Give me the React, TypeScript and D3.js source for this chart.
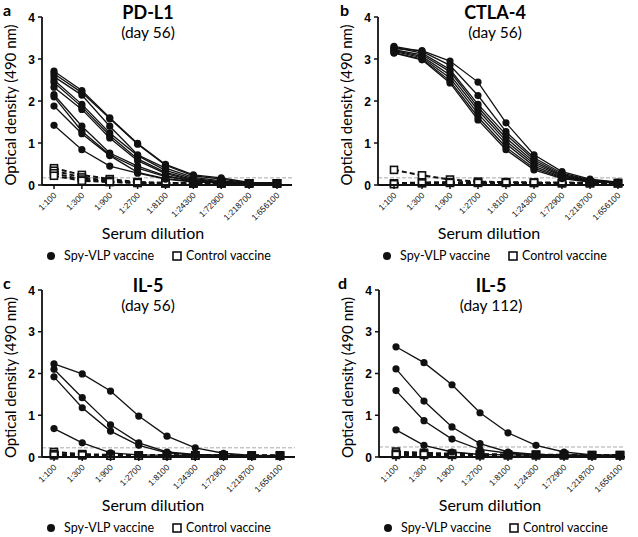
import * as d3 from "d3";

const dilutions = ["1:100", "1:300", "1:900", "1:2700", "1:8100", "1:24300", "1:72900", "1:218700", "1:656100"];
const yTicks = [0, 1, 2, 3, 4];

// panel a: PD-L1 day 56
const pdl1Spy = [
    [2.71, 2.25, 1.60, 0.99, 0.49, 0.24, 0.17, 0.06, 0.05],
    [2.65, 2.20, 1.58, 0.97, 0.47, 0.22, 0.14, 0.05, 0.05],
    [2.58, 2.14, 1.40, 0.72, 0.40, 0.18, 0.10, 0.05, 0.04],
    [2.50, 1.92, 1.24, 0.70, 0.35, 0.15, 0.08, 0.05, 0.04],
    [2.44, 1.86, 1.18, 0.62, 0.30, 0.13, 0.07, 0.04, 0.04],
    [2.33, 1.80, 1.12, 0.58, 0.27, 0.11, 0.06, 0.04, 0.04],
    [2.15, 1.40, 0.76, 0.45, 0.22, 0.10, 0.06, 0.04, 0.04],
    [2.10, 1.28, 0.72, 0.40, 0.20, 0.09, 0.05, 0.04, 0.04],
    [1.88, 1.22, 0.70, 0.30, 0.15, 0.08, 0.05, 0.04, 0.04],
    [1.42, 0.84, 0.45, 0.28, 0.14, 0.07, 0.05, 0.04, 0.04],
];
const pdl1Ctrl = [
    [0.40, 0.24, 0.14, 0.07, 0.05, 0.05, 0.04, 0.04, 0.04],
    [0.34, 0.18, 0.10, 0.06, 0.05, 0.04, 0.04, 0.04, 0.04],
    [0.28, 0.13, 0.08, 0.05, 0.04, 0.04, 0.04, 0.04, 0.04],
    [0.22, 0.10, 0.07, 0.05, 0.04, 0.04, 0.04, 0.04, 0.04],
];

// panel b: CTLA-4 day 56
const ctla4Spy = [
    [3.25, 3.20, 2.95, 2.45, 1.48, 0.72, 0.32, 0.14, 0.07],
    [3.30, 3.18, 2.85, 2.13, 1.27, 0.65, 0.28, 0.12, 0.06],
    [3.28, 3.14, 2.75, 1.92, 1.20, 0.60, 0.25, 0.11, 0.06],
    [3.22, 3.10, 2.70, 1.85, 1.12, 0.55, 0.23, 0.10, 0.06],
    [3.20, 3.06, 2.62, 1.78, 1.05, 0.50, 0.21, 0.09, 0.05],
    [3.18, 3.03, 2.55, 1.70, 0.98, 0.45, 0.19, 0.08, 0.05],
    [3.15, 3.00, 2.48, 1.62, 0.90, 0.40, 0.17, 0.08, 0.05],
    [3.14, 2.98, 2.43, 1.55, 0.84, 0.36, 0.15, 0.07, 0.05],
];
const ctla4Ctrl = [
    [0.36, 0.23, 0.13, 0.08, 0.07, 0.06, 0.06, 0.05, 0.05],
    [0.04, 0.06, 0.07, 0.06, 0.06, 0.05, 0.05, 0.05, 0.04],
    [0.02, 0.04, 0.05, 0.05, 0.05, 0.05, 0.04, 0.04, 0.04],
];

// panel c: IL-5 day 56
const il5d56Spy = [
    [2.23, 1.99, 1.58, 0.98, 0.50, 0.22, 0.09, 0.04, 0.03],
    [2.10, 1.42, 0.77, 0.34, 0.12, 0.06, 0.04, 0.03, 0.03],
    [1.92, 1.18, 0.62, 0.28, 0.10, 0.05, 0.04, 0.03, 0.03],
    [0.68, 0.34, 0.10, 0.05, 0.04, 0.04, 0.03, 0.03, 0.03],
];
const il5d56Ctrl = [
    [0.12, 0.07, 0.05, 0.04, 0.04, 0.04, 0.04, 0.04, 0.04],
    [0.07, 0.05, 0.04, 0.04, 0.04, 0.04, 0.04, 0.03, 0.03],
    [0.04, 0.04, 0.03, 0.03, 0.03, 0.03, 0.03, 0.03, 0.03],
];

// panel d: IL-5 day 112
const il5d112Spy = [
    [2.64, 2.26, 1.73, 1.06, 0.58, 0.28, 0.12, 0.05, 0.04],
    [2.11, 1.34, 0.72, 0.32, 0.12, 0.06, 0.05, 0.04, 0.04],
    [1.59, 0.87, 0.43, 0.18, 0.09, 0.05, 0.04, 0.04, 0.04],
    [0.65, 0.28, 0.12, 0.06, 0.05, 0.04, 0.04, 0.04, 0.04],
];
const il5d112Ctrl = [
    [0.13, 0.10, 0.08, 0.07, 0.06, 0.06, 0.05, 0.05, 0.05],
    [0.08, 0.07, 0.06, 0.06, 0.05, 0.05, 0.05, 0.04, 0.04],
    [0.05, 0.05, 0.05, 0.04, 0.04, 0.04, 0.04, 0.04, 0.04],
];

const cutoffs = [0.17, 0.17, 0.22, 0.24];

const textFont = "Lato, 'Open Sans', sans-serif";
const tickFont = "'Liberation Sans', Arial, sans-serif";

interface PanelProps {
    letter: string,
    title: string,
    subtitle: string,
    spy: number[][],
    ctrl: number[][],
    cutoff: number,
    axisX: number,
    firstX: number,
    lastX: number,
    axisEnd: number,
    top: number,
    bottom: number,
    letterX: number,
    titleX: number,
}

const Panel = ({ letter, title, subtitle, spy, ctrl, cutoff, axisX, firstX, lastX, axisEnd, top, bottom, letterX, titleX }: PanelProps) => {
    const x = d3.scalePoint<string>().domain(dilutions).range([firstX, lastX]);
    const y = d3.scaleLinear().domain([0, 4]).range([bottom, top]);
    const line = d3.line<number>().x((_, i) => x(dilutions[i]) as number).y(d => y(d));

    return (
        <g>
            <text x={letterX} y={top - 1} fontFamily={textFont} fontWeight="bold" fontSize={16}>{letter}</text>
            <text x={titleX} y={top + 2} textAnchor="middle" fontFamily={textFont} fontWeight="bold" fontSize={18}>{title}</text>
            <text x={titleX} y={top + 21} textAnchor="middle" fontFamily={textFont} fontSize={15.5}>{subtitle}</text>

            {/* cutoff */}
            <line x1={axisX} x2={axisEnd} y1={y(cutoff)} y2={y(cutoff)} stroke="#aaa" strokeWidth={1} strokeDasharray="4,2" />

            {/* control vaccine */}
            {ctrl.map((s, i) => (
                <g key={'c' + i}>
                    <path d={line(s) ?? ''} fill="none" stroke="#111" strokeWidth={2} strokeDasharray="5,3" />
                    {s.map((v, j) => (
                        <rect key={j} x={(x(dilutions[j]) as number) - 3.5} y={y(v) - 3.5} width={7} height={7} fill="#fff" stroke="#111" strokeWidth={1.6} />
                    ))}
                </g>
            ))}

            {/* spy-VLP vaccine */}
            {spy.map((s, i) => (
                <g key={'s' + i}>
                    <path d={line(s) ?? ''} fill="none" stroke="#111" strokeWidth={1.3} />
                    {s.map((v, j) => (
                        <circle key={j} cx={x(dilutions[j]) as number} cy={y(v)} r={3.6} fill="#111" />
                    ))}
                </g>
            ))}

            {/* y axis */}
            <line x1={axisX} x2={axisX} y1={top} y2={bottom} stroke="#111" strokeWidth={1.8} />
            {yTicks.map(t => (
                <g key={t}>
                    <line x1={axisX - 4} x2={axisX} y1={y(t)} y2={y(t)} stroke="#111" strokeWidth={1.5} />
                    <text x={axisX - 7} y={y(t) + 4.5} textAnchor="end" fontFamily={tickFont} fontWeight="bold" fontSize={12}>{t}</text>
                </g>
            ))}
            <text transform={`translate(${axisX - 26},${(top + bottom) / 2 + 4}) rotate(-90)`} textAnchor="middle" fontFamily={textFont} fontSize={15}>Optical density (490 nm)</text>

            {/* x axis */}
            <line x1={axisX} x2={axisEnd} y1={bottom} y2={bottom} stroke="#111" strokeWidth={1.8} />
            {dilutions.map(d => (
                <g key={d}>
                    <line x1={x(d) as number} x2={x(d) as number} y1={bottom} y2={bottom + 4} stroke="#111" strokeWidth={1.5} />
                    <text transform={`translate(${(x(d) as number) + 3},${bottom + 11}) rotate(-45)`} textAnchor="end" fill="#111" fontFamily={tickFont} fontSize={8.5}>{d}</text>
                </g>
            ))}
            <text x={axisX + 111} y={bottom + 54} textAnchor="middle" fontFamily={textFont} fontSize={16}>Serum dilution</text>

            {/* legend */}
            <circle cx={axisX + 9} cy={bottom + 71} r={4} fill="#111" />
            <text x={axisX + 22} y={bottom + 75} fontFamily={textFont} fontSize={12.5}>Spy-VLP vaccine</text>
            <rect x={axisX + 131} y={bottom + 67} width={8} height={8} fill="#fff" stroke="#111" strokeWidth={1.6} />
            <text x={axisX + 144} y={bottom + 75} fontFamily={textFont} fontSize={12.5}>Control vaccine</text>
        </g>
    );
};

const App = () => {
    return (
        <div style={{ position: 'fixed', left: 0, top: 0 }}>
            <svg width={638} height={537} style={{ display: 'block', background: '#fff' }}>
                <Panel letter="a" title="PD-L1" subtitle="(day 56)" spy={pdl1Spy} ctrl={pdl1Ctrl} cutoff={cutoffs[0]}
                    axisX={42} firstX={54} lastX={277} axisEnd={292} top={17} bottom={185} letterX={3} titleX={148} />
                <Panel letter="b" title="CTLA-4" subtitle="(day 56)" spy={ctla4Spy} ctrl={ctla4Ctrl} cutoff={cutoffs[1]}
                    axisX={378} firstX={394} lastX={618} axisEnd={624} top={17} bottom={185} letterX={340} titleX={495} />
                <Panel letter="c" title="IL-5" subtitle="(day 56)" spy={il5d56Spy} ctrl={il5d56Ctrl} cutoff={cutoffs[2]}
                    axisX={42} firstX={54} lastX={280} axisEnd={295} top={290} bottom={457} letterX={3} titleX={148} />
                <Panel letter="d" title="IL-5" subtitle="(day 112)" spy={il5d112Spy} ctrl={il5d112Ctrl} cutoff={cutoffs[3]}
                    axisX={379} firstX={396} lastX={620} axisEnd={625} top={290} bottom={457} letterX={338} titleX={491} />
            </svg>
        </div>
    );
};

export default App;
